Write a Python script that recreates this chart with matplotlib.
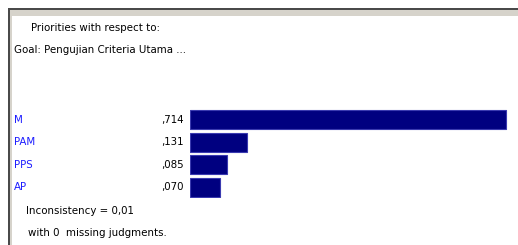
import matplotlib
matplotlib.use("Agg")
import matplotlib.pyplot as plt
import matplotlib.transforms as mtransforms
from matplotlib.patches import Rectangle

# priorities with respect to the goal
criteria = ["M", "PAM", "PPS", "AP"]
priorities = [0.714, 0.131, 0.085, 0.070]
value_labels = [",714", ",131", ",085", ",070"]

title_line = "Priorities with respect to:"
goal_line = "Goal: Pengujian Criteria Utama ..."
incons_line = "Inconsistency = 0,01"
missing_line = "with 0  missing judgments."

W, H = 518, 245
font = dict(family="DejaVu Sans", fontstretch="condensed", fontsize=8.2)

fig = plt.figure(figsize=(W / 100, H / 100), dpi=100)
fig.patch.set_facecolor("white")

# background axes in pixel coordinates for the window frame and texts
bg = fig.add_axes([0, 0, 1, 1])
bg.set_xlim(0, W)
bg.set_ylim(H, 0)
bg.axis("off")

bg.add_patch(Rectangle((8, 8), W - 8, 2, color="#4a4a4a", lw=0))
bg.add_patch(Rectangle((10, 10), W - 10, 6, color="#d6d3cb", lw=0))
bg.add_patch(Rectangle((8, 8), 2, H - 8, color="#4a4a4a", lw=0))
bg.add_patch(Rectangle((10, 10), 2, H - 10, color="#d6d3cb", lw=0))

bg.text(31, 28, title_line, color="black", va="center", ha="left", **font)
bg.text(14, 50, goal_line, color="black", va="center", ha="left", **font)
bg.text(26, 211, incons_line, color="black", va="center", ha="left", **font)
bg.text(28, 233, missing_line, color="black", va="center", ha="left", **font)

# bar axes: left edge at px 189.5, ~442.6 px per unit
px_per_unit = 442.6
left_px, top_px, bottom_px = 189.5, 108.5, 198.5
ax = fig.add_axes([left_px / W, 1 - bottom_px / H,
                   (W - left_px) / W, (bottom_px - top_px) / H])
ax.set_xlim(0, (W - left_px) / px_per_unit)
ax.set_ylim(len(criteria) - 0.5, -0.5)
ax.axis("off")
ax.patch.set_alpha(0)

ypos = list(range(len(criteria)))
ax.barh(ypos, priorities, height=0.845, color="#000080",
        edgecolor="#3a3ab0", linewidth=0.8)

trans = mtransforms.blended_transform_factory(bg.transData, ax.transData)
for y, name, val in zip(ypos, criteria, value_labels):
    ax.text(14, y, name, transform=trans, color="#1a1aff",
            va="center", ha="left", **font)
    ax.text(184, y, val, transform=trans, color="black",
            va="center", ha="right", **font)

fig.savefig("out.png", dpi=100)
